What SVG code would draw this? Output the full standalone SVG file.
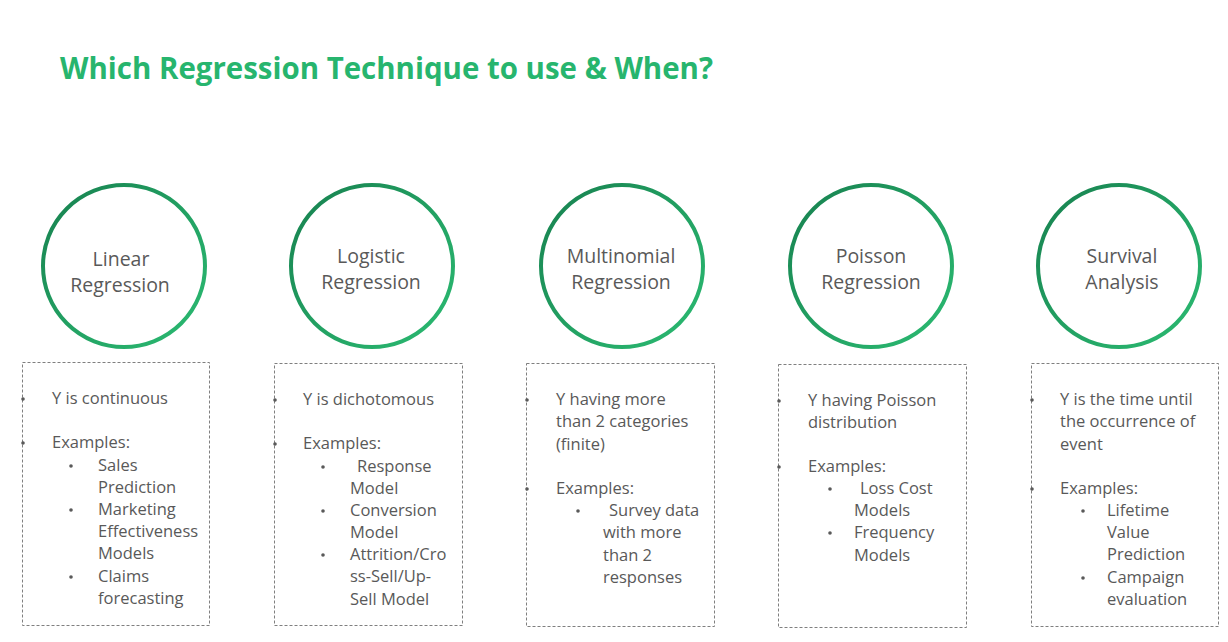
<svg xmlns="http://www.w3.org/2000/svg" width="1228" height="642" viewBox="0 0 1228 642">
  <style>
    .title { font-family: "Open Sans", "Noto Sans", sans-serif; font-size: 30px; font-weight: bold; fill: #27b56e; }
    .ring { fill: #ffffff; stroke: url(#ringGrad); stroke-width: 4; }
    .name { font-family: "Open Sans", "Noto Sans", sans-serif; font-size: 19.5px; font-weight: 500; fill: #595959; text-anchor: middle; }
    .box { fill: none; stroke: #7f7f7f; stroke-width: 1; stroke-dasharray: 3 2; }
    .txt { font-family: "Open Sans", "Noto Sans", sans-serif; font-size: 16.5px; font-weight: 500; fill: #595959; }
    .dot { fill: #595959; }
  </style>
  <defs>
    <linearGradient id="ringGrad" x1="0" y1="0" x2="1" y2="1">
      <stop offset="0" stop-color="#17804f"/>
      <stop offset="0.5" stop-color="#22a062"/>
      <stop offset="1" stop-color="#2bbb72"/>
    </linearGradient>
  </defs>
  <rect width="1228" height="642" fill="#ffffff"/>

  <text class="title" x="60" y="79" textLength="653" lengthAdjust="spacingAndGlyphs">Which Regression Technique to use &amp; When?</text>

  <g id="linear">
    <circle class="ring" cx="124" cy="266" r="81"/>
    <text class="name" x="121" y="266">Linear</text>
    <text class="name" x="120" y="292">Regression</text>
    <rect class="box" x="22.5" y="362.5" width="187" height="263"/>
    <circle class="dot" cx="23" cy="399" r="1.8"/>
    <text class="txt" x="52" y="404">Y is continuous</text>
    <circle class="dot" cx="23" cy="443" r="1.8"/>
    <text class="txt" x="52" y="448">Examples:</text>
    <circle class="dot" cx="71" cy="466" r="1.8"/>
    <text class="txt" x="98" y="471">Sales</text>
    <text class="txt" x="98" y="493">Prediction</text>
    <circle class="dot" cx="71" cy="510" r="1.8"/>
    <text class="txt" x="98" y="515">Marketing</text>
    <text class="txt" x="98" y="537">Effectiveness</text>
    <text class="txt" x="98" y="559">Models</text>
    <circle class="dot" cx="71" cy="577" r="1.8"/>
    <text class="txt" x="98" y="582">Claims</text>
    <text class="txt" x="98" y="604">forecasting</text>
  </g>

  <g id="logistic">
    <circle class="ring" cx="372" cy="266" r="81"/>
    <text class="name" x="371" y="263">Logistic</text>
    <text class="name" x="371" y="289">Regression</text>
    <rect class="box" x="274.5" y="363.5" width="188" height="262"/>
    <circle class="dot" cx="275" cy="400" r="1.8"/>
    <text class="txt" x="303" y="405">Y is dichotomous</text>
    <circle class="dot" cx="275" cy="444" r="1.8"/>
    <text class="txt" x="303" y="449">Examples:</text>
    <circle class="dot" cx="323" cy="467" r="1.8"/>
    <text class="txt" x="357" y="472">Response</text>
    <text class="txt" x="350" y="494">Model</text>
    <circle class="dot" cx="323" cy="511" r="1.8"/>
    <text class="txt" x="350" y="516">Conversion</text>
    <text class="txt" x="350" y="538">Model</text>
    <circle class="dot" cx="323" cy="555" r="1.8"/>
    <text class="txt" x="350" y="560">Attrition/Cro</text>
    <text class="txt" x="350" y="582">ss-Sell/Up-</text>
    <text class="txt" x="350" y="605">Sell Model</text>
  </g>

  <g id="multinomial">
    <circle class="ring" cx="622" cy="266" r="81"/>
    <text class="name" x="621" y="263">Multinomial</text>
    <text class="name" x="621" y="289">Regression</text>
    <rect class="box" x="526.5" y="363.5" width="188" height="263"/>
    <circle class="dot" cx="527" cy="400" r="1.8"/>
    <text class="txt" x="556" y="405">Y having more</text>
    <text class="txt" x="556" y="427">than 2 categories</text>
    <text class="txt" x="556" y="450">(finite)</text>
    <circle class="dot" cx="527" cy="489" r="1.8"/>
    <text class="txt" x="556" y="494">Examples:</text>
    <circle class="dot" cx="578" cy="511" r="1.8"/>
    <text class="txt" x="609" y="516">Survey data</text>
    <text class="txt" x="603" y="538">with more</text>
    <text class="txt" x="603" y="561">than 2</text>
    <text class="txt" x="603" y="583">responses</text>
  </g>

  <g id="poisson">
    <circle class="ring" cx="871" cy="266" r="81"/>
    <text class="name" x="871" y="263">Poisson</text>
    <text class="name" x="871" y="289">Regression</text>
    <rect class="box" x="778.5" y="364.5" width="188" height="263"/>
    <circle class="dot" cx="779" cy="401" r="1.8"/>
    <text class="txt" x="808" y="406">Y having Poisson</text>
    <text class="txt" x="808" y="428">distribution</text>
    <circle class="dot" cx="779" cy="467" r="1.8"/>
    <text class="txt" x="808" y="472">Examples:</text>
    <circle class="dot" cx="830" cy="489" r="1.8"/>
    <text class="txt" x="860" y="494">Loss Cost</text>
    <text class="txt" x="854" y="516">Models</text>
    <circle class="dot" cx="830" cy="533" r="1.8"/>
    <text class="txt" x="854" y="538">Frequency</text>
    <text class="txt" x="854" y="561">Models</text>
  </g>

  <g id="survival">
    <circle class="ring" cx="1119" cy="266" r="81"/>
    <text class="name" x="1122" y="263">Survival</text>
    <text class="name" x="1122" y="289">Analysis</text>
    <rect class="box" x="1031.5" y="363.5" width="187" height="263"/>
    <circle class="dot" cx="1032" cy="400" r="1.8"/>
    <text class="txt" x="1060" y="405">Y is the time until</text>
    <text class="txt" x="1060" y="427">the occurrence of</text>
    <text class="txt" x="1060" y="450">event</text>
    <circle class="dot" cx="1032" cy="489" r="1.8"/>
    <text class="txt" x="1060" y="494">Examples:</text>
    <circle class="dot" cx="1083" cy="511" r="1.8"/>
    <text class="txt" x="1107" y="516">Lifetime</text>
    <text class="txt" x="1107" y="538">Value</text>
    <text class="txt" x="1107" y="560">Prediction</text>
    <circle class="dot" cx="1083" cy="578" r="1.8"/>
    <text class="txt" x="1107" y="583">Campaign</text>
    <text class="txt" x="1107" y="605">evaluation</text>
  </g>

  <g id="connectors"/>
</svg>
